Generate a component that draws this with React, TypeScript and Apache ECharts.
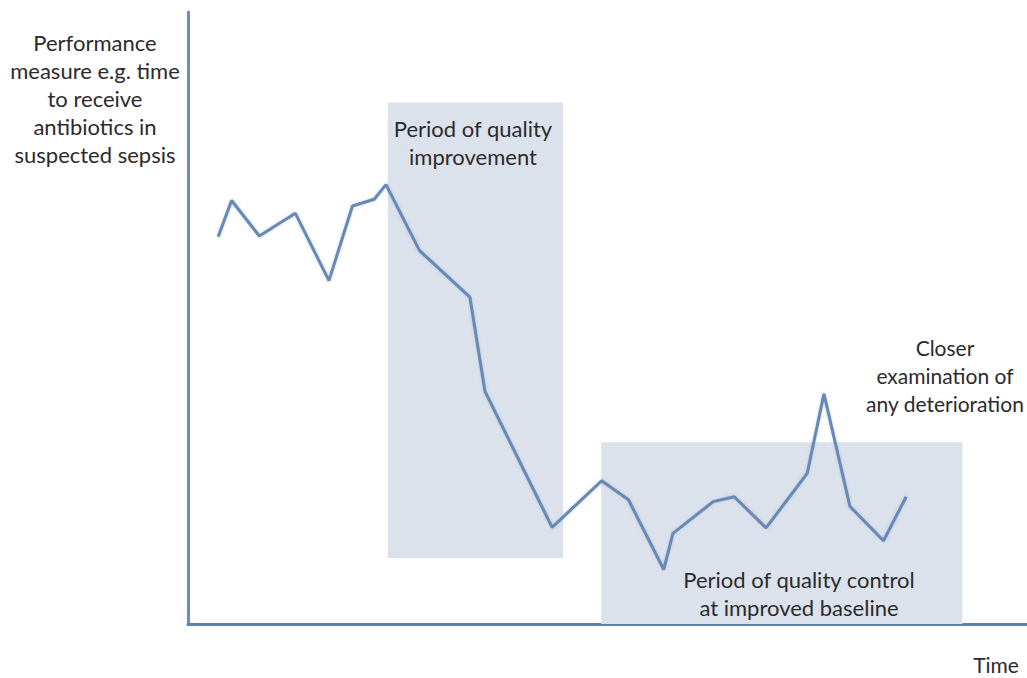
import React, { useEffect, useRef } from "react";
import * as echarts from "echarts";

// Time positions (0–100 scale along the time axis) and performance values (0–100)
const timePoints = [3.6, 5.2, 8.5, 12.8, 16.8, 19.6, 22.2, 23.6, 27.6, 33.6, 35.4, 43.4, 49.3, 52.5, 56.7, 57.8, 62.6, 65.1, 68.9, 73.8, 75.8, 78.9, 82.9, 85.6];
const performanceValues = [63.3, 69.2, 63.4, 67.1, 56.1, 68.3, 69.4, 71.8, 61.0, 53.4, 38.0, 15.8, 23.4, 20.3, 8.9, 14.8, 20.0, 20.8, 15.7, 24.6, 37.6, 19.2, 13.6, 20.8];

// Shaded periods: [xStart, xEnd, yLow, yHigh]
const improvementPeriod = [23.8, 44.7, 10.8, 85.2];
const controlPeriod = [49.25, 92.3, 0, 29.7];

const yAxisTitle = ["Performance", "measure e.g. time", "to receive", "antibiotics in", "suspected sepsis"];
const improvementLabel = ["Period of quality", "improvement"];
const controlLabel = ["Period of quality control", "at improved baseline"];
const deteriorationLabel = ["Closer", "examination of", "any deterioration"];
const xAxisTitle = "Time";

const FONT = "Lato, 'Open Sans', sans-serif";
const TEXT_COLOR = "#2b2b2b";

export default function App() {
  const ref = useRef<HTMLDivElement>(null);
  useEffect(() => {
    if (!ref.current) return;
    const chart = echarts.init(ref.current, null, { renderer: "svg" });
    const data = timePoints.map((t, i) => [t, performanceValues[i]]);
    const label = (lines: string[], x: number, firstCenterY: number, align: string, size = 22) => ({
      type: "text",
      x,
      y: firstCenterY - 14,
      z: 100,
      style: {
        text: lines.join("\n"),
        fill: TEXT_COLOR,
        font: `${size}px ${FONT}`,
        textAlign: align,
        textVerticalAlign: "top",
        lineHeight: 28,
      },
    });
    chart.setOption({
      animation: false,
      backgroundColor: "#ffffff",
      grid: { left: 188, right: 0, top: 12, bottom: 54 },
      xAxis: {
        type: "value",
        min: 0,
        max: 100,
        axisLine: { show: true, lineStyle: { color: "#5d80ad", width: 3 } },
        axisTick: { show: false },
        axisLabel: { show: false },
        splitLine: { show: false },
      },
      yAxis: {
        type: "value",
        min: 0,
        max: 100,
        axisLine: { show: true, lineStyle: { color: "#6a8dbb", width: 3 } },
        axisTick: { show: false },
        axisLabel: { show: false },
        splitLine: { show: false },
      },
      series: [
        {
          type: "line",
          data,
          symbol: "none",
          lineStyle: { color: "#6789b6", width: 3, shadowColor: "rgba(103,137,182,0.35)", shadowBlur: 3 },
          z: 3,
          markArea: {
            silent: true,
            itemStyle: { color: "#dce2eb" },
            data: [
              [
                { coord: [improvementPeriod[0], improvementPeriod[3]] },
                { coord: [improvementPeriod[1], improvementPeriod[2]] },
              ],
              [
                { coord: [controlPeriod[0], controlPeriod[3]] },
                { coord: [controlPeriod[1], controlPeriod[2]] },
              ],
            ],
          },
        },
      ],
      graphic: [
        label(yAxisTitle, 95, 42, "center"),
        label(improvementLabel, 473, 128, "center"),
        label(controlLabel, 799, 579, "center"),
        label(deteriorationLabel, 945, 347, "center", 21),
        {
          type: "text",
          x: 996,
          y: 664,
          z: 100,
          style: {
            text: xAxisTitle,
            fill: TEXT_COLOR,
            font: `21px ${FONT}`,
            textAlign: "center",
            textVerticalAlign: "middle",
            lineHeight: 21,
          },
        },
      ],
    });
    return () => chart.dispose();
  }, []);
  return <div ref={ref} style={{ position: "fixed", left: 0, top: 0, width: 1027, height: 678 }} />;
}
